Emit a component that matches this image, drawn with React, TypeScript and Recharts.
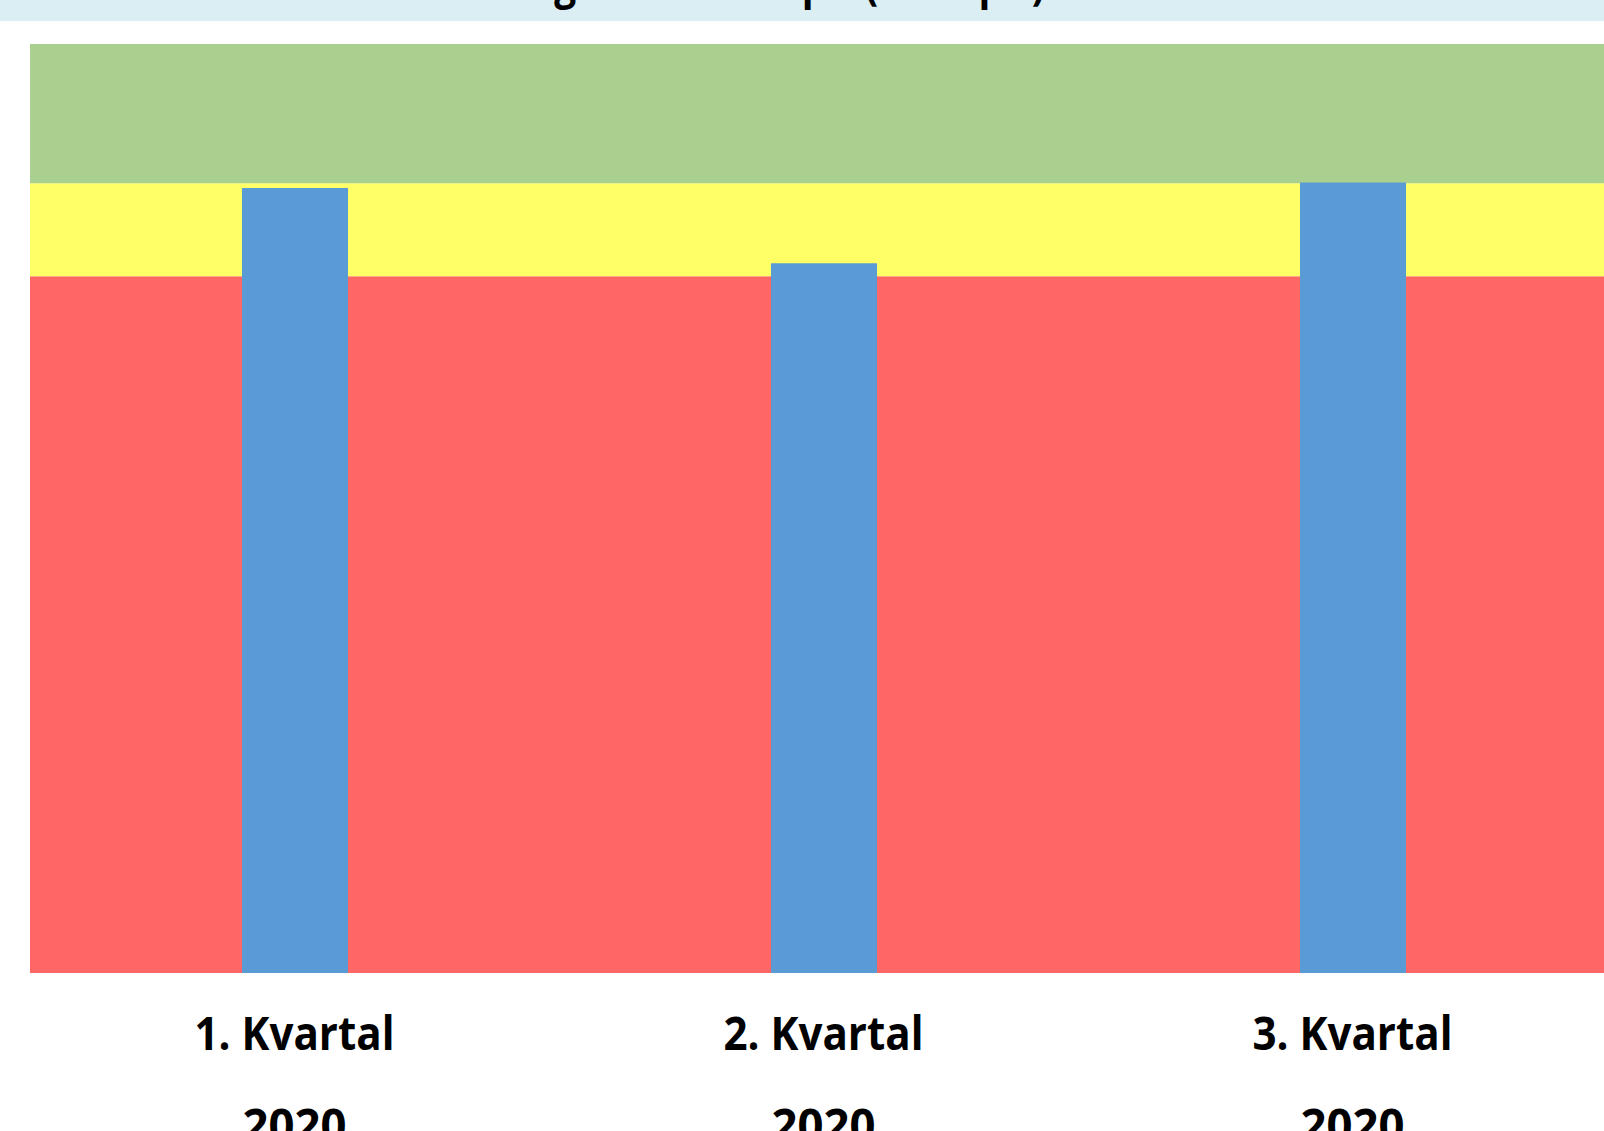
import React from "react";
import { ComposedChart, Bar, XAxis, YAxis, ReferenceArea } from "recharts";

const categories = ["1. Kvartal", "2. Kvartal", "3. Kvartal"];
const years = ["2020", "2020", "2020"];
const values = [84.5, 76.4, 85.1];
const bandLimits = [0, 75, 85, 100];
const bandColors = ["#FF6666", "#FFFF66", "#A9D08E"];
const title = "Samlet vurdering av kvalitet pr. (snitt pr.)";

const data = categories.map((c, i) => ({ name: c, year: years[i], value: values[i] }));

const Tick = (props: any) => {
  const { x, y, payload, index } = props;
  return (
    <g>
      <text
        x={x}
        y={y + 77}
        textAnchor="middle"
        fontFamily="'Open Sans', sans-serif"
        fontWeight={700}
        fontSize={46}
        fill="#000"
        textLength={200}
        lengthAdjust="spacingAndGlyphs"
      >
        {payload.value}
      </text>
      <text
        x={x}
        y={y + 169}
        textAnchor="middle"
        fontFamily="'Open Sans', sans-serif"
        fontWeight={700}
        fontSize={46}
        fill="#000"
        textLength={104}
        lengthAdjust="spacingAndGlyphs"
      >
        {years[index] ?? "2020"}
      </text>
    </g>
  );
};

export default function App() {
  return (
    <div
      style={{
        position: "fixed",
        left: 0,
        top: 0,
        width: 1604,
        height: 1131,
        overflow: "hidden",
        background: "#fff",
      }}
    >
      <div style={{ position: "absolute", left: 0, top: 0 }}>
        <ComposedChart
          width={1640}
          height={1131}
          data={data}
          margin={{ top: 44, left: 30, right: 23, bottom: 0 }}
        >
          <YAxis hide domain={[0, 100]} type="number" />
          <XAxis
            dataKey="name"
            height={158}
            axisLine={false}
            tickLine={false}
            tickSize={0}
            tickMargin={0}
            tick={<Tick />}
            interval={0}
          />
          {bandColors.map((col, i) => (
            <ReferenceArea
              key={i}
              y1={bandLimits[i]}
              y2={bandLimits[i + 1]}
              fill={col}
              fillOpacity={1}
              stroke="none"
              strokeWidth={0}
            />
          ))}
          <Bar dataKey="value" fill="#5B9BD5" barSize={106} isAnimationActive={false} />
        </ComposedChart>
      </div>
      <svg
        width={1604}
        height={21}
        style={{ position: "absolute", left: 0, top: 0, display: "block" }}
      >
        <rect x={0} y={0} width={1604} height={21} fill="#DAEEF3" />
        <text
          x={242}
          y={-1}
          fontFamily="'Open Sans', sans-serif"
          fontWeight={700}
          fontSize={46}
          fill="#000"
          textLength={803}
          lengthAdjust="spacingAndGlyphs"
        >
          {title}
        </text>
      </svg>
    </div>
  );
}
